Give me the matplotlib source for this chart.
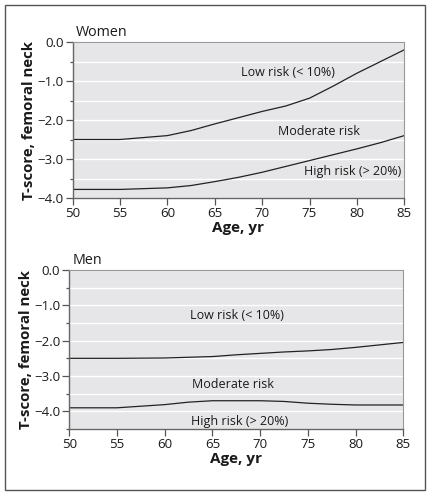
import numpy as np
import matplotlib
matplotlib.use("Agg")
import matplotlib.pyplot as plt
from matplotlib.patches import Rectangle
from matplotlib.ticker import MultipleLocator, FuncFormatter

plt.rcParams['font.family'] = ['Open Sans', 'DejaVu Sans']

ages = [50, 55, 60, 62.5, 65, 67.5, 70, 72.5, 75, 77.5, 80, 82.5, 85]

# Women thresholds
women_low = [-2.5, -2.5, -2.4, -2.27, -2.1, -1.94, -1.78, -1.64, -1.44, -1.13, -0.8, -0.5, -0.2]
women_high = [-3.78, -3.78, -3.74, -3.68, -3.58, -3.47, -3.34, -3.19, -3.04, -2.89, -2.74, -2.58, -2.4]

# Men thresholds
men_low = [-2.5, -2.5, -2.49, -2.47, -2.45, -2.4, -2.36, -2.32, -2.29, -2.25, -2.19, -2.12, -2.05]
men_high = [-3.9, -3.9, -3.81, -3.74, -3.7, -3.7, -3.7, -3.72, -3.77, -3.8, -3.82, -3.82, -3.82]

panels = [
    ("Women", women_low, women_high, -4.0,
     [(72.7, -0.78, "Low risk (< 10%)"), (76.0, -2.3, "Moderate risk"), (79.5, -3.33, "High risk (> 20%)")]),
    ("Men", men_low, men_high, -4.5,
     [(67.6, -1.3, "Low risk (< 10%)"), (67.2, -3.25, "Moderate risk"), (67.8, -4.28, "High risk (> 20%)")]),
]

W, H = 431, 496
fig = plt.figure(figsize=(W / 100, H / 100), dpi=100)

# outer frame
fig.patches.append(Rectangle((5 / W, 1 - 490 / H), 420 / W, 485 / H, transform=fig.transFigure,
                             fill=False, edgecolor='#555555', linewidth=1.0))

boxes = [(72.7, 42, 404.3, 198), (69.3, 270, 403.3, 429)]
label_color = '#1a1a1a'
for (title, low, high, ymin, labels), (x0, y0, x1, y1) in zip(panels, boxes):
    ax = fig.add_axes([x0 / W, 1 - y1 / H, (x1 - x0) / W, (y1 - y0) / H])
    ax.set_facecolor('#e6e6e8')
    ax.set_xlim(50, 85)
    ax.set_ylim(ymin, 0)
    ax.yaxis.set_major_locator(MultipleLocator(1.0))
    ax.yaxis.set_minor_locator(MultipleLocator(0.5))
    ax.xaxis.set_major_locator(MultipleLocator(5))
    ax.yaxis.set_major_formatter(FuncFormatter(
        lambda v, p: ("\u2212%.1f" % abs(v)) if v < 0 else "%.1f" % abs(v)))
    ax.grid(True, which='both', axis='y', color='white', linewidth=1.0)
    ax.set_axisbelow(True)
    for s in ['left', 'bottom']:
        ax.spines[s].set_color('#666666')
        ax.spines[s].set_linewidth(1.0)
    for s in ['top', 'right']:
        ax.spines[s].set_color('#999999')
        ax.spines[s].set_linewidth(0.8)
    ax.tick_params(which='both', direction='out', color='#555555', width=0.9, labelsize=9.5,
                   labelcolor=label_color)
    ax.tick_params(which='major', length=5, pad=1.5)
    ax.tick_params(which='minor', length=2.5)
    ax.plot(ages, low, color='#222222', linewidth=0.9)
    ax.plot(ages, high, color='#222222', linewidth=0.9)
    for x, y, t in labels:
        ax.text(x, y, t, ha='center', va='center', fontsize=9, color=label_color)
    ax.text(0.01, 1.01, title, transform=ax.transAxes, ha='left', va='bottom', fontsize=10.3,
            color=label_color)
    ax.set_xlabel("Age, yr", fontsize=11, fontweight='bold', labelpad=0.5, color=label_color)
    ax.set_ylabel("T-score, femoral neck", fontsize=10.8, fontweight='bold', labelpad=1,
                  color=label_color)

fig.savefig("out.png", dpi=100)
